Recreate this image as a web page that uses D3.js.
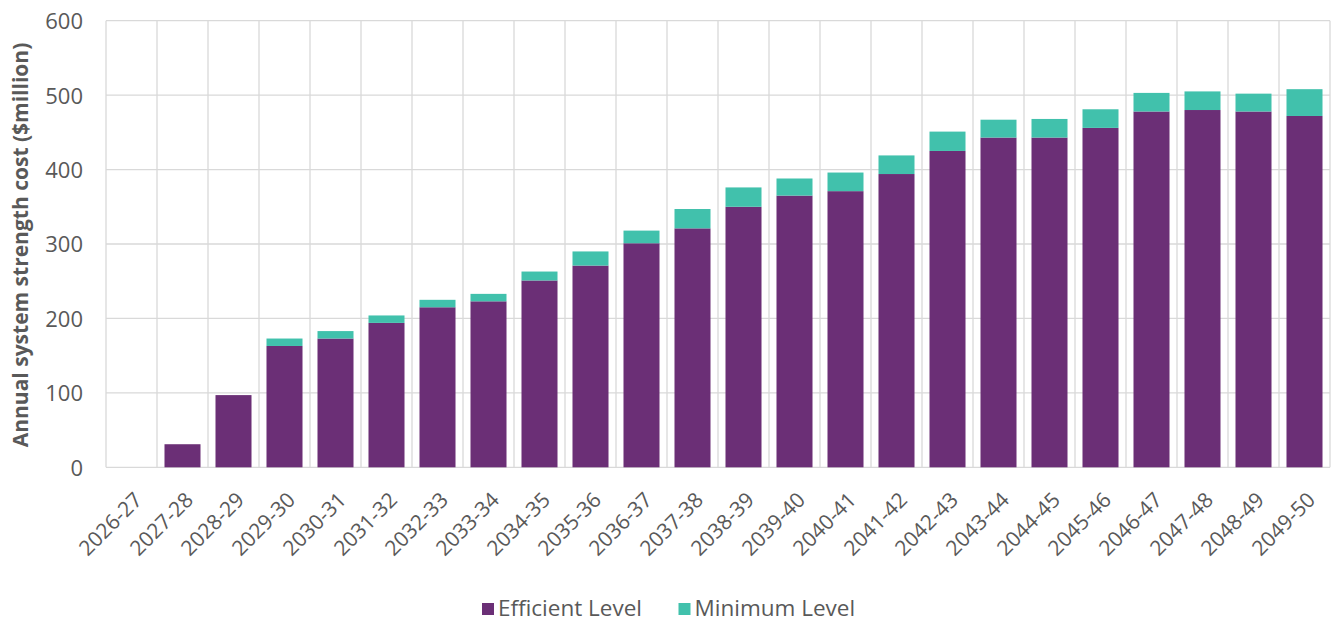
<!DOCTYPE html>
<html>
<head>
<meta charset="utf-8">
<script src="https://cdn.jsdelivr.net/npm/d3@7"></script>
<style>
  html, body { margin: 0; padding: 0; background: #ffffff; }
  svg { display: block; font-family: "Open Sans", "Noto Sans", sans-serif; }
</style>
</head>
<body>
<svg id="chart" width="1334" height="621"></svg>
<script>
// Financial years on the category axis
const categories = [
  "2026-27", "2027-28", "2028-29", "2029-30", "2030-31", "2031-32",
  "2032-33", "2033-34", "2034-35", "2035-36", "2036-37", "2037-38",
  "2038-39", "2039-40", "2040-41", "2041-42", "2042-43", "2043-44",
  "2044-45", "2045-46", "2046-47", "2047-48", "2048-49", "2049-50"
];

// Efficient level cost ($million)
const efficientLevel = [
  0, 31, 97, 163, 173, 194, 215, 223, 251, 271, 301, 321,
  350, 365, 371, 394, 425, 443, 443, 456, 478, 480, 478, 472
];

// Additional cost to reach the minimum level ($million), stacked on top
const minimumLevel = [
  0, 0, 0, 10, 10, 10, 10, 10, 12, 19, 17, 26,
  26, 23, 25, 25, 26, 24, 25, 25, 25, 25, 24, 36
];

const yTicks = [0, 100, 200, 300, 400, 500, 600];

const seriesNames = ["Efficient Level", "Minimum Level"];
const seriesColors = ["#6b2f76", "#41c1ac"];

const textColor = "#595959";
const gridColor = "#d9d9d9";

const svg = d3.select("#chart");

const plot = { left: 106, right: 1330, top: 20.7, bottom: 467.3 };

const x = d3.scaleBand()
  .domain(categories)
  .range([plot.left, plot.right])
  .paddingInner(0.294)
  .paddingOuter(0.147);

const y = d3.scaleLinear()
  .domain([0, 600])
  .range([plot.bottom, plot.top]);

// Horizontal gridlines
svg.append("g")
  .selectAll("line")
  .data(yTicks)
  .join("line")
  .attr("x1", plot.left)
  .attr("x2", plot.right)
  .attr("y1", d => y(d))
  .attr("y2", d => y(d))
  .attr("stroke", gridColor)
  .attr("stroke-width", 1.3);

// Vertical gridlines between categories
const step = x.step();
const boundaries = d3.range(categories.length + 1).map(i => plot.left + i * step);
svg.append("g")
  .selectAll("line")
  .data(boundaries)
  .join("line")
  .attr("x1", d => d)
  .attr("x2", d => d)
  .attr("y1", plot.top)
  .attr("y2", plot.bottom)
  .attr("stroke", gridColor)
  .attr("stroke-width", 1.3);

// Stacked bars
const rows = categories.map((c, i) => ({
  category: c,
  efficient: efficientLevel[i],
  minimum: minimumLevel[i]
}));
const stack = d3.stack().keys(["efficient", "minimum"]);
const stacked = stack(rows);

svg.append("g")
  .selectAll("g")
  .data(stacked)
  .join("g")
  .attr("fill", (d, i) => seriesColors[i])
  .selectAll("rect")
  .data(d => d.filter(s => s[1] - s[0] > 0))
  .join("rect")
  .attr("x", d => x(d.data.category))
  .attr("width", x.bandwidth())
  .attr("y", d => y(d[1]))
  .attr("height", d => y(d[0]) - y(d[1]));

// Y axis tick labels
const yAxis = d3.axisLeft(y).tickValues(yTicks).tickSize(0).tickPadding(23);
const yG = svg.append("g")
  .attr("transform", `translate(${plot.left},0)`)
  .call(yAxis);
yG.select(".domain").remove();
yG.selectAll("text")
  .attr("fill", textColor)
  .style("font-size", "22px")
  .style("font-family", "'Open Sans', sans-serif")
  .attr("dy", "0.36em");

// X axis tick labels, rotated
const xAxis = d3.axisBottom(x).tickSize(0).tickPadding(0);
const xG = svg.append("g")
  .attr("transform", `translate(0,${plot.bottom})`)
  .call(xAxis);
xG.select(".domain").remove();
xG.selectAll("text")
  .attr("fill", textColor)
  .style("font-size", "21px")
  .style("font-family", "'Open Sans', sans-serif")
  .attr("text-anchor", "end")
  .attr("dy", null)
  .attr("y", 0)
  .attr("transform", "translate(12,34) rotate(-45)");

// Y axis title
svg.append("text")
  .attr("transform", `translate(28,${(plot.top + plot.bottom) / 2 + 1}) rotate(-90)`)
  .attr("text-anchor", "middle")
  .attr("fill", textColor)
  .style("font-size", "21px")
  .style("font-weight", "bold")
  .text("Annual system strength cost ($million)");

// Legend
const legendItems = [
  { name: seriesNames[0], color: seriesColors[0], x: 482 },
  { name: seriesNames[1], color: seriesColors[1], x: 678.5 }
];
const legend = svg.append("g");
const li = legend.selectAll("g")
  .data(legendItems)
  .join("g")
  .attr("transform", d => `translate(${d.x},603)`);
li.append("rect")
  .attr("width", 12)
  .attr("height", 12)
  .attr("fill", d => d.color);
li.append("text")
  .attr("x", 16)
  .attr("y", 12.5)
  .attr("fill", textColor)
  .style("font-size", "22.5px")
  .text(d => d.name);
</script>
</body>
</html>
